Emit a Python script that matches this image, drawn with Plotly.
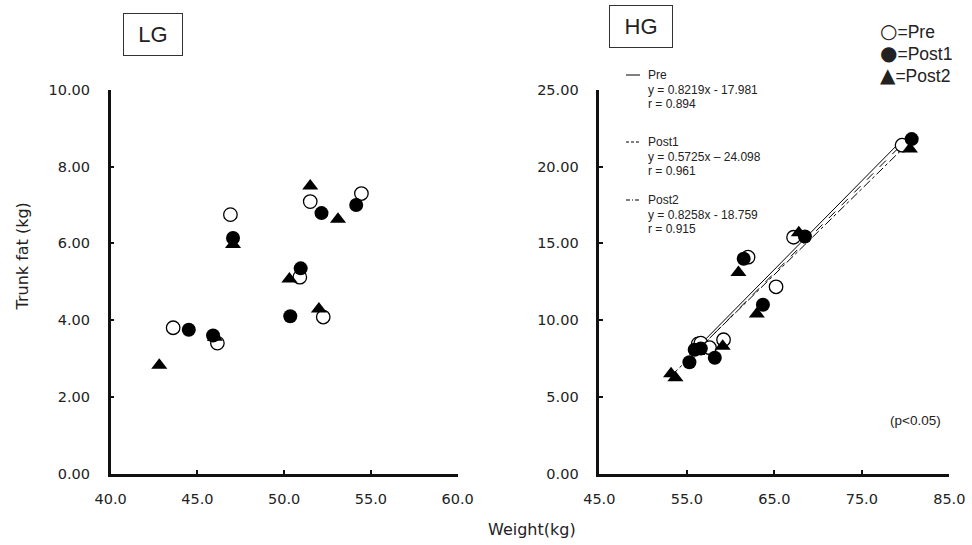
import numpy as np
import plotly.graph_objects as go

# ---------------- data ----------------
# LG group
lg_pre_x = [43.6, 46.9, 46.15, 50.9, 51.5, 52.25, 54.45]
lg_pre_y = [3.80, 6.75, 3.40, 5.12, 7.09, 4.08, 7.30]
lg_post1_x = [44.5, 45.9, 47.05, 50.35, 50.95, 52.15, 54.15]
lg_post1_y = [3.75, 3.60, 6.14, 4.10, 5.35, 6.79, 7.00]
lg_post2_x = [42.8, 46.0, 47.05, 50.3, 51.5, 52.0, 53.1]
lg_post2_y = [2.82, 3.55, 5.97, 5.07, 7.50, 4.29, 6.63]

# HG group
hg_pre_x = [56.3, 56.6, 57.6, 59.2, 62.0, 65.2, 67.2, 79.6]
hg_pre_y = [8.45, 8.50, 8.20, 8.72, 14.10, 12.17, 15.40, 21.40]
hg_post1_x = [55.3, 55.9, 56.6, 58.2, 61.5, 63.7, 68.5, 80.7]
hg_post1_y = [7.25, 8.07, 8.15, 7.55, 14.00, 11.00, 15.45, 21.80]
hg_post2_x = [53.2, 53.7, 56.2, 59.1, 60.9, 63.0, 67.8, 80.5]
hg_post2_y = [6.50, 6.25, 7.95, 8.30, 13.10, 10.40, 15.70, 21.15]

lg_xticks = [40, 45, 50, 55, 60]
lg_yticks = [0, 2, 4, 6, 8, 10]
hg_xticks = [45, 55, 65, 75, 85]
hg_yticks = [0, 5, 10, 15, 20, 25]

reg_labels = ["Pre", "Post1", "Post2"]
reg_eqs = ["y = 0.8219x - 17.981", "y = 0.5725x \u2013 24.098", "y = 0.8258x - 18.759"]
reg_rs = ["r = 0.894", "r = 0.961", "r = 0.915"]

W, H = 972, 545


def px(x):
    return x / W


def py(y):
    return 1 - y / H


fig = go.Figure()

open_marker = dict(symbol="circle", size=13.5, color="white", line=dict(width=1.3, color="black"))
fill_marker = dict(symbol="circle", size=14, color="black")
tri_marker = dict(symbol="triangle-up", size=14, color="black")

# LG scatter
fig.add_trace(go.Scatter(x=lg_pre_x, y=lg_pre_y, mode="markers", marker=open_marker, xaxis="x", yaxis="y"))
fig.add_trace(go.Scatter(x=lg_post2_x, y=lg_post2_y, mode="markers", marker=tri_marker, xaxis="x", yaxis="y"))
fig.add_trace(go.Scatter(x=lg_post1_x, y=lg_post1_y, mode="markers", marker=fill_marker, xaxis="x", yaxis="y"))

# HG trend lines (least squares on each series)
for xs, ys, dash in [(hg_pre_x, hg_pre_y, "solid"), (hg_post1_x, hg_post1_y, "dash"), (hg_post2_x, hg_post2_y, "dashdot")]:
    xs_a = np.array(xs)
    m, b = np.polyfit(xs_a, np.array(ys), 1)
    xl = np.array([xs_a.min(), xs_a.max()])
    fig.add_trace(go.Scatter(x=xl, y=m * xl + b, mode="lines", line=dict(color="black", width=1, dash=dash), xaxis="x2", yaxis="y2"))

# HG scatter
fig.add_trace(go.Scatter(x=hg_pre_x, y=hg_pre_y, mode="markers", marker=open_marker, xaxis="x2", yaxis="y2"))
fig.add_trace(go.Scatter(x=hg_post2_x, y=hg_post2_y, mode="markers", marker=tri_marker, xaxis="x2", yaxis="y2"))
fig.add_trace(go.Scatter(x=hg_post1_x, y=hg_post1_y, mode="markers", marker=fill_marker, xaxis="x2", yaxis="y2"))

tickfont = dict(family="DejaVu Sans", size=14.5, color="#222")
axis_common = dict(showgrid=False, zeroline=False, showline=True, linecolor="#111", linewidth=2.5,
                   ticks="inside", ticklen=4, tickwidth=2, tickcolor="#111", tickfont=tickfont,
                   automargin=False)

ydom = [py(473.5), py(90)]
fig.update_layout(
    template="none",
    width=W, height=H,
    margin=dict(l=0, r=0, t=0, b=0, autoexpand=False),
    paper_bgcolor="white", plot_bgcolor="rgba(0,0,0,0)",
    showlegend=False,
    xaxis=dict(domain=[px(110.7), px(457.7)], range=[40, 60], tickvals=lg_xticks,
               ticktext=[f"{v:.1f}" for v in lg_xticks], anchor="y", ticklabelstandoff=10, **axis_common),
    yaxis=dict(domain=ydom, range=[0, 10], tickvals=lg_yticks,
               ticktext=[f"{v:.2f}" for v in lg_yticks], anchor="x", ticklabelstandoff=15, **axis_common),
    xaxis2=dict(domain=[px(599.3), px(949.3)], range=[45, 85], tickvals=hg_xticks,
                ticktext=[f"{v:.1f}" for v in hg_xticks], anchor="y2", ticklabelstandoff=10, **axis_common),
    yaxis2=dict(domain=ydom, range=[0, 25], tickvals=hg_yticks,
                ticktext=[f"{v:.2f}" for v in hg_yticks], anchor="x2", ticklabelstandoff=15, **axis_common),
)

ann = []


def add_text(x, y, text, size, family="Liberation Sans, Arial", xanchor="center", **kw):
    ann.append(dict(x=px(x), y=py(y), xref="paper", yref="paper", text=text, showarrow=False,
                    xanchor=xanchor, yanchor="middle",
                    font=dict(family=family, size=size, color="#222"), **kw))


# group boxes
add_text(152.5, 34, "LG", 22, bordercolor="#333", borderwidth=1, width=56, height=39, borderpad=1)
add_text(641, 26, "HG", 22, bordercolor="#333", borderwidth=1, width=60, height=39, borderpad=1)

# symbol legend
sym = ["\u25CB", "\u25CF", "\u25B2"]
names = ["Pre", "Post1", "Post2"]
for i in range(3):
    add_text(878, 31 + 22 * i,
             f"<span style='font-family:DejaVu Sans;font-size:20px'>{sym[i]}</span>={names[i]}",
             17.5, xanchor="left")

# regression labels
ys0 = [75, 142, 200]
dash_shapes = ["solid", "3px,2px", "4px,2px,1px,2px"]
for i in range(3):
    y0 = ys0[i]
    add_text(645.5, y0, reg_labels[i], 12, xanchor="left")
    add_text(645.5, y0 + 14.5, reg_eqs[i], 12, xanchor="left")
    add_text(645.5, y0 + 28.8, reg_rs[i], 12, xanchor="left")
    fig.add_shape(type="line", xref="paper", yref="paper", x0=px(626), x1=px(640), y0=py(y0), y1=py(y0),
                  line=dict(color="black", width=1, dash=dash_shapes[i]))

add_text(915.5, 420, "(p<0.05)", 13.5)

# axis titles
add_text(21.5, 257, "Trunk fat (kg)", 16, family="DejaVu Sans", textangle=-90)
add_text(531.5, 529, "Weight(kg)", 16, family="DejaVu Sans")

fig.update_layout(annotations=ann)
fig.write_html("out.html")
